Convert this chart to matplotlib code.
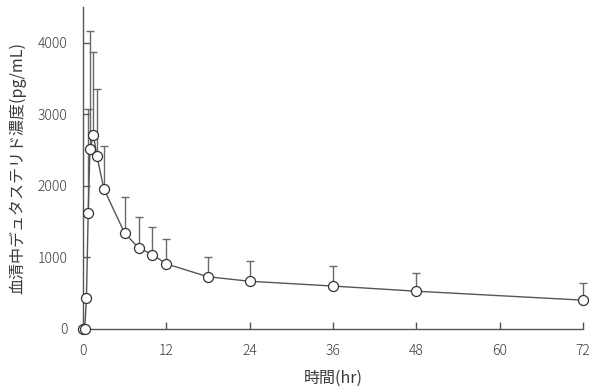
import matplotlib
matplotlib.use("Agg")
import matplotlib.pyplot as plt

plt.rcParams['font.family'] = ['Noto Sans CJK JP', 'DejaVu Sans']
plt.rcParams['font.weight'] = 'light'

# sampling times (hr), mean serum concentration and upper SD (pg/mL)
times = [0, 0.25, 0.5, 0.75, 1, 1.5, 2, 3, 6, 8, 10, 12, 18, 24, 36, 48, 72]
mean_conc = [0, 0, 430, 1620, 2510, 2710, 2420, 1960, 1340, 1135, 1040, 910,
             730, 667, 600, 528, 403]
upper_sd = [0, 0, 0, 1460, 1650, 1160, 930, 595, 510, 425, 385, 350,
            280, 283, 280, 259, 237]

x_ticks = [0, 12, 24, 36, 48, 60, 72]
y_ticks = [0, 1000, 2000, 3000, 4000]

fig = plt.figure(figsize=(6.0, 3.91), dpi=100)
ax = fig.add_axes([0.1383, 0.1586, 0.8333, 0.8235])

line_col = '#555555'
text_col = '#3a3a3a'

ax.errorbar(times, mean_conc, yerr=[[0] * len(upper_sd), upper_sd],
            fmt='none', ecolor='#6a6a6a', elinewidth=1.0, capsize=3.0,
            capthick=1.0, zorder=2, clip_on=False)
ax.plot(times, mean_conc, color=line_col, lw=1.0, marker='o',
        markersize=7.2, markerfacecolor='white', markeredgecolor='#333333',
        markeredgewidth=0.9, zorder=3, clip_on=False)

ax.set_xlim(0, 72)
ax.set_ylim(0, 4500)
ax.set_xticks(x_ticks)
ax.set_yticks(y_ticks)

for side in ('top', 'right'):
    ax.spines[side].set_visible(False)
for side in ('left', 'bottom'):
    ax.spines[side].set_color(line_col)
    ax.spines[side].set_linewidth(1.0)

ax.tick_params(direction='in', length=5, width=1.0, color=line_col,
               labelcolor=text_col, labelsize=10)
ax.tick_params(axis='x', pad=11)
ax.tick_params(axis='y', pad=11)

ax.set_xlabel('時間(hr)', fontsize=11.5, color=text_col, labelpad=8)
ax.set_ylabel('血清中デュタステリド濃度(pg/mL)', fontsize=11.5,
              color=text_col, labelpad=8)

fig.savefig('out.png', dpi=100)
